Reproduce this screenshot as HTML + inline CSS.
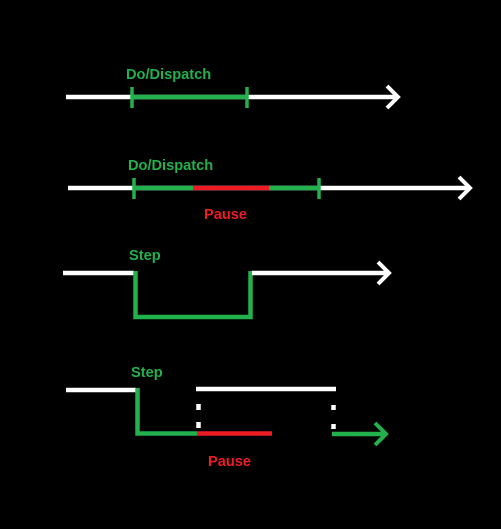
<!DOCTYPE html>
<html><head><style>
html,body{margin:0;padding:0;background:#000;}
svg{display:block}
text{font-family:"Liberation Sans",sans-serif;font-weight:bold;font-size:14.6px}
</style></head><body>
<svg width="501" height="529" viewBox="0 0 501 529">
<g fill="none" stroke-width="4.5" stroke-linecap="butt">
<line x1="66" y1="97" x2="398" y2="97" stroke="#fff"/>
<polyline points="387,86 398,97 387,108" stroke="#fff" stroke-width="4"/>
<line x1="132" y1="97" x2="247" y2="97" stroke="#22b14c"/>
<line x1="132" y1="87" x2="132" y2="108" stroke="#22b14c" stroke-width="3.5"/>
<line x1="247" y1="87" x2="247" y2="108" stroke="#22b14c" stroke-width="3.5"/>
<line x1="68" y1="188" x2="470" y2="188" stroke="#fff"/>
<polyline points="459,177 470,188 459,199" stroke="#fff" stroke-width="4"/>
<line x1="134" y1="188" x2="193" y2="188" stroke="#22b14c"/>
<line x1="193" y1="188" x2="269" y2="188" stroke="#ed1c24"/>
<line x1="269" y1="188" x2="319" y2="188" stroke="#22b14c"/>
<line x1="134" y1="178" x2="134" y2="199" stroke="#22b14c" stroke-width="3.5"/>
<line x1="319" y1="178" x2="319" y2="199" stroke="#22b14c" stroke-width="3.5"/>
<line x1="63" y1="273" x2="134" y2="273" stroke="#fff"/>
<polyline points="135.5,271 135.5,317 250.5,317 250.5,271" stroke="#22b14c"/>
<line x1="252" y1="273" x2="389" y2="273" stroke="#fff"/>
<polyline points="378,262 389,273 378,284" stroke="#fff" stroke-width="4"/>
<line x1="66" y1="390" x2="136" y2="390" stroke="#fff"/>
<polyline points="137.5,388 137.5,433.5 197,433.5" stroke="#22b14c"/>
<line x1="197" y1="433.5" x2="272" y2="433.5" stroke="#ed1c24"/>
<line x1="196" y1="389" x2="336" y2="389" stroke="#fff"/>
<line x1="198.5" y1="404" x2="198.5" y2="410" stroke="#fff"/>
<line x1="198.5" y1="422" x2="198.5" y2="428" stroke="#fff"/>
<line x1="333.5" y1="405" x2="333.5" y2="410" stroke="#fff"/>
<line x1="333.5" y1="424" x2="333.5" y2="429" stroke="#fff"/>
<line x1="332" y1="434" x2="386" y2="434" stroke="#22b14c"/>
<polyline points="375,423 386,434 375,445" stroke="#22b14c" stroke-width="4"/>
</g>
<text x="126" y="79" fill="#22b14c">Do/Dispatch</text>
<text x="128" y="170" fill="#22b14c">Do/Dispatch</text>
<text x="204" y="219" fill="#ed1c24">Pause</text>
<text x="129" y="260" fill="#22b14c">Step</text>
<text x="131" y="377" fill="#22b14c">Step</text>
<text x="208" y="466" fill="#ed1c24">Pause</text>
</svg>
</body></html>
